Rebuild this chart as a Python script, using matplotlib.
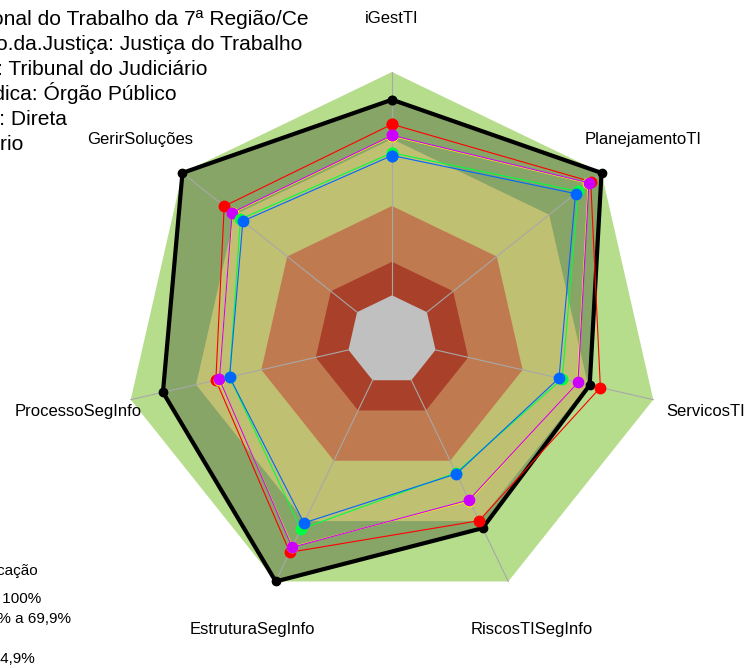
import numpy as np
import matplotlib
matplotlib.use("Agg")
import matplotlib.pyplot as plt

plt.rcParams['font.family'] = ['Liberation Sans', 'DejaVu Sans']

# eixos do radar (sentido horario a partir do topo)
eixos = ["iGestTI", "PlanejamentoTI", "ServicosTI", "RiscosTISegInfo",
         "EstruturaSegInfo", "ProcessoSegInfo", "GerirSoluções"]

# valores em % por serie
preto = [87.6, 100.0, 70.8, 73.5, 100.0, 85.2, 100.0]
vermelho = [76.6, 93.8, 75.7, 69.8, 85.5, 60.9, 76.1]
amarelo = [71.3, 92.5, 65.2, 59.9, 82.7, 59.5, 71.2]
magenta = [71.6, 92.8, 65.4, 59.5, 83.0, 59.3, 71.5]
verde = [63.8, 86.7, 58.2, 46.0, 74.0, 54.6, 66.8]
azul = [62.6, 85.1, 56.7, 46.5, 70.9, 54.6, 65.4]

# faixas de classificacao (limite superior em %)
faixas = [100, 70, 40, 15, 0]
cores_faixas = ["#b6dd8c", "#c0c072", "#c07a50", "#a8402a", "#c0c0c0"]

info = ["Órgão: Tribunal Regional do Trabalho da 7ª Região/Ce",
        "Segmento.da.Justiça: Justiça do Trabalho",
        "Tipo: Tribunal do Judiciário",
        "Natureza.Jurídica: Órgão Público",
        "Administração: Direta",
        "Poder: Judiciário"]
info_fim = [309, 302, 208, 177, 67, 23]

legenda = ["Classificação", "Aprimorado: 70% a 100%",
           "Intermediário: 40% a 69,9%", "Iniciação: 15% a 39,9%",
           "Inexpressivo: 0% a 14,9%"]
legenda_fim = [38, 41, 71, -4, 35]
legenda_y = [575, 603, 623, 643, 663]

W, H = 745, 668
fig = plt.figure(figsize=(W / 100, H / 100), dpi=100)

cx, cy, R = 392, 340, 268
ax = fig.add_axes([(cx - R) / W, (H - cy - R) / H, 2 * R / W, 2 * R / H],
                  projection='polar')
ax.set_theta_zero_location('N')
ax.set_theta_direction(-1)
ax.set_ylim(-0.2, 1.0)
ax.set_axis_off()

n = len(eixos)
ang = np.arange(n) * 2 * np.pi / n
ang_f = np.append(ang, ang[0])


def fechar(v):
    v = np.asarray(v, dtype=float) / 100
    return np.append(v, v[0])


# fundo: faixa verde, area da serie preta escurecida, demais faixas
ax.fill(ang_f, fechar([faixas[0]] * n), color=cores_faixas[0], lw=0, clip_on=False)
ax.fill(ang_f, fechar(preto), color="#87a567", lw=0, clip_on=False)
for lim, cor in zip(faixas[1:], cores_faixas[1:]):
    ax.fill(ang_f, fechar([lim] * n), color=cor, lw=0, clip_on=False)
ax.fill(ang_f, fechar([-20 + 0.01] * n), color=cores_faixas[-1], lw=0)

for a in ang:
    ax.plot([a, a], [0, 1], color="#a8a8a8", lw=0.8, clip_on=False)

# series
ax.plot(ang_f, fechar(preto), color="black", lw=3, marker='o', ms=6, clip_on=False, zorder=5)
series = [(vermelho, "#ff0000"), (amarelo, "#ffff00"), (magenta, "#cc00ff"),
          (verde, "#00ff40"), (azul, "#0066ff")]
for vals, cor in series:
    ax.plot(ang_f, fechar(vals), color=cor, lw=0.8, marker='o', ms=7.5,
            clip_on=False, zorder=6)

for a, nome in zip(ang, eixos):
    ax.text(a, 1.24, nome, ha='center', va='center', fontsize=12)

for txt, xf, i in zip(info, info_fim, range(len(info))):
    fig.text(xf / W, 1 - (25 + 25 * i) / H, txt, ha='right', va='baseline',
             fontsize=15.1)

for txt, xf, yb in zip(legenda, legenda_fim, legenda_y):
    fig.text(xf / W, 1 - yb / H, txt, ha='right', va='baseline', fontsize=11)

fig.savefig("out.png", dpi=100)
